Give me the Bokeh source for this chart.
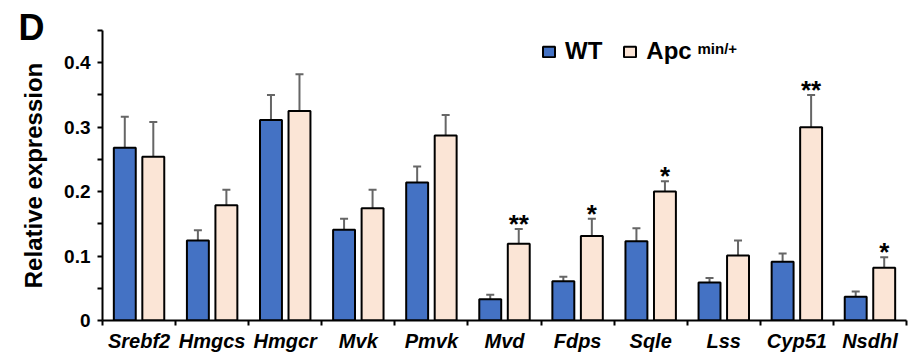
from bokeh.plotting import figure
from bokeh.models import (ColumnDataSource, Whisker, TeeHead, FixedTicker, Legend,
                          LegendItem, Label, Range1d)
from bokeh.transform import dodge
from bokeh.core.properties import value
from bokeh.embed import file_html
from bokeh.resources import INLINE

genes = ["Srebf2", "Hmgcs", "Hmgcr", "Mvk", "Pmvk", "Mvd", "Fdps", "Sqle", "Lss", "Cyp51", "Nsdhl"]
wt = [0.268, 0.124, 0.311, 0.141, 0.214, 0.033, 0.061, 0.123, 0.059, 0.091, 0.037]
wt_err = [0.048, 0.016, 0.039, 0.017, 0.025, 0.007, 0.007, 0.020, 0.007, 0.013, 0.008]
apc = [0.254, 0.179, 0.325, 0.174, 0.287, 0.119, 0.131, 0.200, 0.101, 0.300, 0.082]
apc_err = [0.054, 0.024, 0.057, 0.029, 0.032, 0.023, 0.027, 0.016, 0.023, 0.050, 0.016]
sig = ["", "", "", "", "", "**", "*", "*", "", "**", "*"]
ytick_vals = [0, 0.1, 0.2, 0.3, 0.4]
ytick_labels = ["0", "0.1", "0.2", "0.3", "0.4"]
yminor_vals = [0.05, 0.15, 0.25, 0.35, 0.45]

FONT = "Liberation Sans"
WT_COLOR = "#4472C4"
APC_COLOR = "#FBE5D6"
ERR_COLOR = "#666666"

centers = [i + 0.5 for i in range(len(genes))]
bounds = list(range(len(genes) + 1))

src = ColumnDataSource(dict(
    x=centers, gene=genes, wt=wt, apc=apc,
    wt_top=[v + e for v, e in zip(wt, wt_err)],
    apc_top=[v + e for v, e in zip(apc, apc_err)],
    sig=sig,
))

p = figure(width=912, height=355, x_range=Range1d(0, len(genes)), y_range=Range1d(0, 0.45),
           output_backend="svg", toolbar_location=None, title="D",
           min_border_left=102, min_border_right=6, min_border_top=30, min_border_bottom=35)
p.grid.grid_line_color = None
p.outline_line_color = None

# panel letter
p.title.align = "left"
p.title.offset = -84
p.title.standoff = -34
p.title.text_line_height = 1.67
p.title.text_font = FONT
p.title.text_font_size = "36px"
p.title.text_font_style = "bold"
p.title.text_color = "black"

OFF = 0.195
W = 0.30

for key, top, off in (("wt", "wt_top", -OFF), ("apc", "apc_top", OFF)):
    wh = Whisker(source=src, base=dodge("x", off), lower=key, upper=top, dimension="height",
                 line_color=ERR_COLOR, line_width=2, level="underlay",
                 upper_head=TeeHead(size=8, line_color=ERR_COLOR, line_width=2), lower_head=None)
    p.add_layout(wh)

r_wt = p.vbar(x=dodge("x", -OFF), top="wt", width=W, source=src,
              fill_color=WT_COLOR, line_color="black", line_width=2)
r_apc = p.vbar(x=dodge("x", OFF), top="apc", width=W, source=src,
               fill_color=APC_COLOR, line_color="black", line_width=2)

p.text(x=dodge("x", OFF), y="apc_top", text="sig", source=src, text_align="center",
       text_baseline="alphabetic", y_offset=-5, text_font_size="26px",
       text_font_style="bold", text_font=value(FONT), text_color="black")

# x axis
xa = p.xaxis[0]
xa.ticker = FixedTicker(ticks=centers, minor_ticks=bounds)
xa.major_label_overrides = {c: g for c, g in zip(centers, genes)}
xa.major_tick_out = 0
xa.major_tick_in = 0
xa.minor_tick_out = 5
xa.minor_tick_in = 0
xa.minor_tick_line_width = 2
xa.minor_tick_line_color = "black"
xa.axis_line_width = 2
xa.axis_line_color = "black"
xa.major_label_standoff = 4
xa.major_label_text_font = FONT
xa.major_label_text_font_size = "20px"
xa.major_label_text_font_style = "bold italic"
xa.major_label_text_color = "black"

# y axis
ya = p.yaxis[0]
ya.ticker = FixedTicker(ticks=ytick_vals, minor_ticks=yminor_vals)
ya.major_label_overrides = {v: t for v, t in zip(ytick_vals, ytick_labels)}
ya.major_tick_out = 5
ya.major_tick_in = 0
ya.minor_tick_out = 5
ya.minor_tick_in = 0
ya.major_tick_line_width = 2
ya.minor_tick_line_width = 2
ya.minor_tick_line_color = "black"
ya.axis_line_width = 2
ya.axis_line_color = "black"
ya.major_label_standoff = 7
ya.major_label_text_font = FONT
ya.major_label_text_font_size = "19px"
ya.major_label_text_font_style = "bold"
ya.major_label_text_color = "black"
ya.axis_label = "Relative expression"
ya.axis_label_text_font = FONT
ya.axis_label_text_font_size = "24px"
ya.axis_label_text_font_style = "bold"
ya.axis_label_text_color = "black"
ya.axis_label_standoff = 14

legend = Legend(items=[LegendItem(label="WT", renderers=[r_wt]),
                       LegendItem(label="Apc", renderers=[r_apc])],
                orientation="horizontal", location=(439, 255),
                padding=0, margin=0, spacing=20, label_standoff=9,
                glyph_width=15, glyph_height=13, label_height=13,
                border_line_color=None, background_fill_alpha=0,
                label_text_font=FONT, label_text_font_size="24px",
                label_text_font_style="bold", label_text_color="black")
p.add_layout(legend)

sup = Label(x=595, y=272, x_units="screen", y_units="screen", text="min/+",
            text_font=FONT, text_font_size="15px", text_font_style="bold",
            text_color="black", text_baseline="alphabetic")
p.add_layout(sup)

open("out.html", "w").write(file_html(p, INLINE))
